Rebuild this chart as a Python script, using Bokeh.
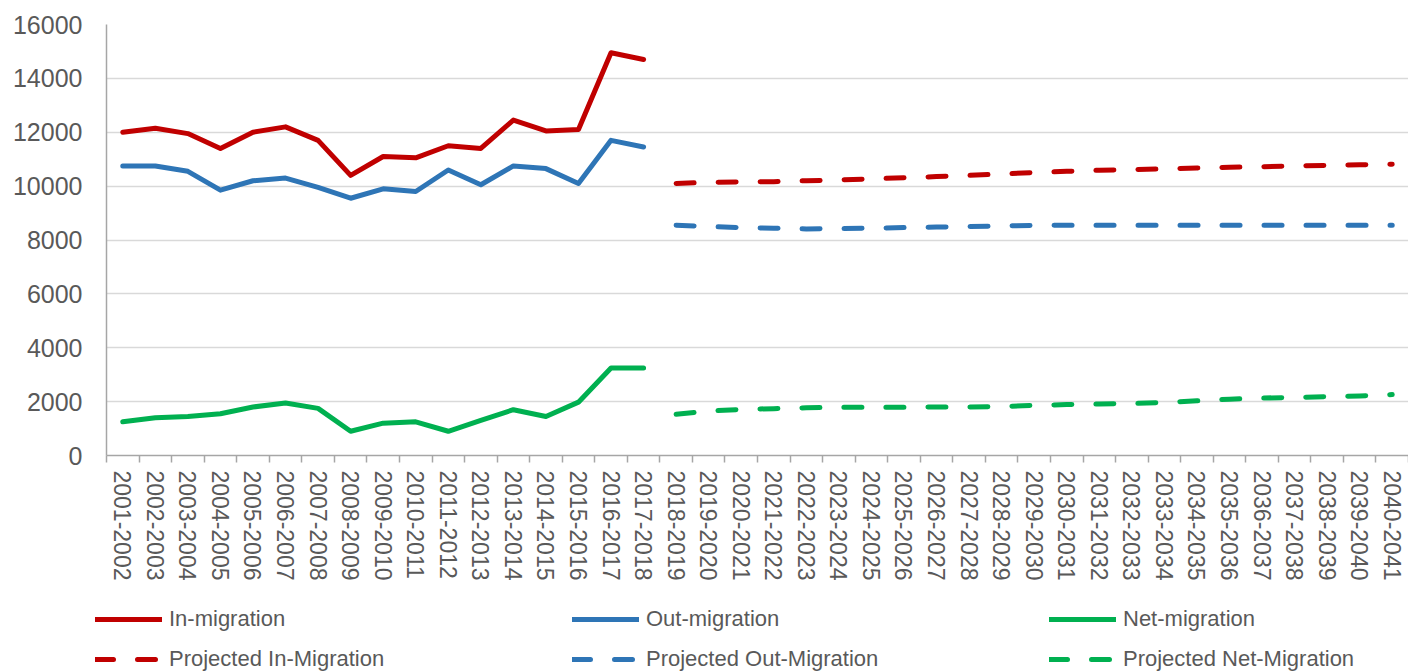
from bokeh.plotting import figure
from bokeh.layouts import column
from bokeh.models import Range1d, FixedTicker, CustomJSTickFormatter, Legend, LegendItem
from bokeh.embed import file_html
from bokeh.resources import INLINE

# Financial-year periods on the category axis
periods = [
    "2001-2002", "2002-2003", "2003-2004", "2004-2005", "2005-2006",
    "2006-2007", "2007-2008", "2008-2009", "2009-2010", "2010-2011",
    "2011-2012", "2012-2013", "2013-2014", "2014-2015", "2015-2016",
    "2016-2017", "2017-2018", "2018-2019", "2019-2020", "2020-2021",
    "2021-2022", "2022-2023", "2023-2024", "2024-2025", "2025-2026",
    "2026-2027", "2027-2028", "2028-2029", "2029-2030", "2030-2031",
    "2031-2032", "2032-2033", "2033-2034", "2034-2035", "2035-2036",
    "2036-2037", "2037-2038", "2038-2039", "2039-2040", "2040-2041",
]

# Observed flows, 2001-2002 .. 2017-2018
hist_in = [12000, 12150, 11950, 11400, 12000, 12200, 11700, 10400, 11100,
           11050, 11500, 11400, 12450, 12050, 12100, 14950, 14700]
hist_out = [10750, 10750, 10550, 9850, 10200, 10300, 9950, 9550, 9900,
            9800, 10600, 10050, 10750, 10650, 10100, 11700, 11450]
hist_net = [1250, 1400, 1450, 1550, 1800, 1950, 1750, 900, 1200,
            1250, 900, 1300, 1700, 1450, 1980, 3250, 3250]

# Projected flows, 2018-2019 .. 2040-2041
proj_in = [10100, 10140, 10160, 10165, 10200, 10230, 10270, 10310, 10355,
           10400, 10450, 10505, 10550, 10590, 10610, 10640, 10670, 10700,
           10720, 10750, 10770, 10795, 10810]
proj_out = [8550, 8500, 8460, 8440, 8410, 8420, 8440, 8460, 8480, 8500,
            8520, 8540, 8550, 8550, 8550, 8550, 8550, 8550, 8550, 8550,
            8550, 8550, 8550]
proj_net = [1530, 1650, 1710, 1740, 1770, 1790, 1790, 1790, 1800, 1800,
            1820, 1860, 1890, 1910, 1930, 1970, 2030, 2090, 2130, 2160,
            2180, 2210, 2260]

series_labels = ["In-migration", "Out-migration", "Net-migration",
                 "Projected In-Migration", "Projected Out-Migration",
                 "Projected Net-Migration"]

y_ticks = [0, 2000, 4000, 6000, 8000, 10000, 12000, 14000, 16000]

RED = "#C00000"
BLUE = "#2E75B6"
GREEN = "#00B050"
TEXT = "#595959"
AXIS = "#A6A6A6"
FONT = "Liberation Sans"

n_hist = len(hist_in)
x_hist = [i + 0.5 for i in range(n_hist)]
x_proj = [n_hist + i + 0.5 for i in range(len(proj_in))]

p = figure(
    width=1408, height=590,
    x_range=Range1d(0, len(periods)), y_range=Range1d(y_ticks[0], y_ticks[-1]),
    output_backend="svg", toolbar_location=None,
    min_border_left=106, min_border_right=0, min_border_top=24, min_border_bottom=135,
)
p.outline_line_color = None
p.background_fill_color = "white"
p.border_fill_color = "white"

# y axis
p.yaxis.ticker = FixedTicker(ticks=y_ticks)
p.yaxis.axis_line_color = AXIS
p.yaxis.axis_line_width = 1.5
p.yaxis.major_tick_line_color = None
p.yaxis.major_tick_out = 0
p.yaxis.major_tick_in = 0
p.yaxis.minor_tick_line_color = None
p.yaxis.major_label_standoff = 24
p.yaxis.major_label_text_font = FONT
p.yaxis.major_label_text_font_size = "25px"
p.yaxis.major_label_text_color = TEXT

# x axis: labels centred on each period, tick marks on period boundaries
p.xaxis.ticker = FixedTicker(ticks=[i + 0.5 for i in range(len(periods))],
                             minor_ticks=list(range(len(periods) + 1)))
p.xaxis.formatter = CustomJSTickFormatter(
    args=dict(labels=periods), code="return labels[Math.floor(tick)] || '';")
p.xaxis.axis_line_color = AXIS
p.xaxis.axis_line_width = 1.5
p.xaxis.major_tick_line_color = None
p.xaxis.major_tick_out = 0
p.xaxis.major_tick_in = 0
p.xaxis.minor_tick_line_color = AXIS
p.xaxis.minor_tick_line_width = 1.5
p.xaxis.minor_tick_out = 7
p.xaxis.minor_tick_in = 0
p.xaxis.major_label_orientation = "vertical"
p.xaxis.major_label_standoff = 8
p.xaxis.major_label_text_font = FONT
p.xaxis.major_label_text_font_size = "23px"
p.xaxis.major_label_text_color = TEXT

p.xgrid.grid_line_color = None
p.ygrid.grid_line_color = "#D9D9D9"
p.ygrid.grid_line_width = 1.5

solid = dict(line_width=5, line_join="round", line_cap="round")
dashed = dict(line_width=5, line_join="round", line_cap="round", line_dash="18 24")
styles = [dict(line_color=RED, **solid), dict(line_color=BLUE, **solid),
          dict(line_color=GREEN, **solid), dict(line_color=RED, **dashed),
          dict(line_color=BLUE, **dashed), dict(line_color=GREEN, **dashed)]

p.line(x_hist, hist_in, **styles[0])
p.line(x_hist, hist_out, **styles[1])
p.line(x_hist, hist_net, **styles[2])
p.line(x_proj, proj_in, **styles[3])
p.line(x_proj, proj_out, **styles[4])
p.line(x_proj, proj_net, **styles[5])

# Legend strip underneath the chart, two rows of three entries
key = figure(width=1408, height=82, output_backend="svg", toolbar_location=None,
             x_range=Range1d(0, 1), y_range=Range1d(0, 1),
             x_axis_location=None, y_axis_location=None,
             min_border_left=0, min_border_right=0, min_border_top=0, min_border_bottom=0)
key.outline_line_color = None
key.xgrid.grid_line_color = None
key.ygrid.grid_line_color = None
key.border_fill_color = "white"
key.background_fill_color = "white"

nan = float("nan")
items = []
for label, style in zip(series_labels, styles):
    r = key.line([nan, nan], [nan, nan], **style)
    items.append(LegendItem(label=label, renderers=[r]))

legend = Legend(
    items=items, location=(95, 0), orientation="horizontal", ncols=3,
    glyph_width=67, glyph_height=20, label_height=20,
    label_standoff=7, label_width=389, spacing=14, padding=0, margin=0,
    label_text_font=FONT, label_text_font_size="22px",
    label_text_color=TEXT, background_fill_alpha=0, border_line_alpha=0,
)
key.add_layout(legend, "center")

layout = column(p, column(key, spacing=0), spacing=0)
open("out.html", "w").write(file_html(layout, INLINE))
